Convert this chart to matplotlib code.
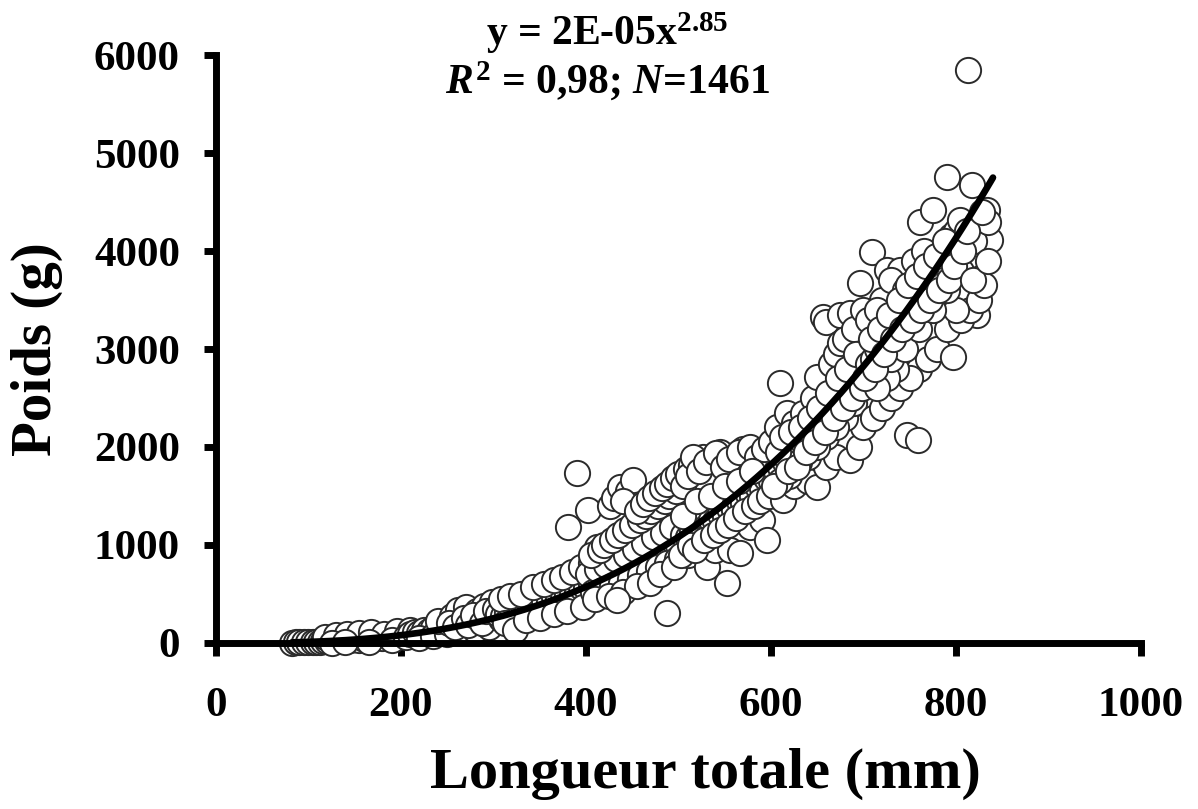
import matplotlib
matplotlib.use("Agg")
import matplotlib.pyplot as plt
import numpy as np

plt.rcParams['font.family'] = 'Liberation Serif'
plt.rcParams['font.weight'] = 'bold'
plt.rcParams['mathtext.fontset'] = 'custom'
plt.rcParams['mathtext.rm'] = 'Liberation Serif:bold'
plt.rcParams['mathtext.it'] = 'Liberation Serif:italic:bold'
plt.rcParams['mathtext.bf'] = 'Liberation Serif:bold'

# Longueur totale (mm) et poids (g)
longueur = np.array([
    82, 86, 90, 95, 100, 105, 108, 112, 116, 120, 124, 128, 132, 136, 140, 145, 150, 155, 160, 165,
    170, 175, 180, 185, 190, 195, 200, 205, 118, 130, 142, 155, 168, 182, 196, 210, 125, 140, 165, 190,
    205, 210, 215, 220, 225, 230, 235, 240, 245, 250, 255, 260, 265, 270, 275, 280, 285, 290, 295, 300,
    220, 235, 250, 265, 280, 295, 240, 255, 262, 270, 282, 290, 298,
    252, 258, 268, 272, 278, 288, 292, 302, 308, 318, 322, 328, 338, 342, 348, 352, 358, 362, 368, 372,
    378, 382, 388, 392, 398,
    305, 310, 315, 320, 325, 330, 335, 340, 345, 350, 355, 360, 365, 370, 375, 380, 385, 390, 395, 400,
    308, 318, 330, 343, 355, 365, 374, 385, 395, 405, 312, 323, 335, 350, 365, 380, 397,
    381, 390, 402, 412,
    405, 410, 415, 420, 425, 430, 435, 440, 445, 450, 455, 460, 465, 470, 475, 480, 485, 490, 495, 500,
    402, 408, 412, 418, 422, 428, 432, 438, 443, 448, 453, 458, 463, 468, 473, 478, 483, 488, 493, 498,
    405, 415, 420, 428, 435, 442, 450, 458, 465, 470, 478, 485, 490, 497,
    426, 430, 437, 445, 451, 440, 410, 425, 440, 455, 469, 480, 488, 495, 433,
    455, 462, 468, 475, 482, 488, 494, 500, 508, 513, 527, 535, 545, 560, 570,
    505, 510, 515, 520, 525, 530, 535, 540, 545, 550, 555, 560, 565, 570, 575, 580, 585, 590, 595, 600,
    505, 510, 516, 522, 530, 541, 548, 555, 565, 577, 585, 592, 600,
    505, 520, 535, 550, 565, 580, 510, 523, 531, 540, 552, 556, 566, 577, 590, 596,
    503, 512, 518, 528, 537, 545, 553, 562, 572, 582, 588, 598,
    605, 610, 615, 620, 625, 630, 635, 640, 645, 650, 655, 660, 665, 670, 675, 680, 685, 690, 695, 700,
    606, 610, 617, 625, 635, 645, 650, 656, 660, 665, 670, 675, 675, 680, 685, 690, 696, 700,
    613, 625, 640, 650, 660, 670, 685, 695, 700,
    620, 640, 660, 680, 700, 690, 670, 650, 630, 610,
    603, 608, 612, 618, 622, 628, 632, 638, 642, 648, 652, 658, 662, 668, 672, 678, 682, 688, 692, 698,
    705, 710, 715, 720, 725, 730, 735, 740, 745, 750, 755, 760, 765, 770, 775, 780, 785, 790, 795, 800,
    709, 725, 739, 761, 775, 786, 790, 797, 804, 812, 815, 817, 833, 837, 823, 813, 720, 730, 745, 755,
    765, 705, 715,
    710, 720, 730, 740, 747, 759, 760, 770, 780, 797, 790, 805, 815, 825, 830, 800, 750, 735, 725,
    715, 730, 745, 760, 775, 790, 805, 820, 835,
    702, 708, 712, 718, 722, 728, 732, 738, 742, 748, 752, 758, 762, 768, 772, 778, 782, 788, 792, 798,
    808, 812, 818, 828, 835,
])

poids = np.array([
    5, 8, 6, 10, 12, 9, 15, 14, 20, 18, 25, 20, 28, 30, 26, 35, 40, 30, 45, 50,
    42, 60, 55, 70, 65, 80, 75, 95, 60, 80, 90, 100, 110, 95, 120, 130, 0, 10, 15, 30,
    60, 90, 110, 100, 130, 120, 150, 140, 170, 150, 190, 180, 220, 200, 240, 230, 270, 250, 290, 270,
    50, 70, 90, 110, 130, 160, 220, 280, 340, 370, 330, 380, 420,
    200, 160, 260, 180, 290, 200, 330, 350, 240, 380, 260, 420, 300, 460, 330, 500, 360, 540, 400, 580,
    430, 620, 460, 660, 480,
    300, 280, 320, 300, 350, 330, 370, 360, 400, 390, 430, 420, 470, 450, 500, 490, 530, 520, 570, 560,
    450, 480, 500, 571, 600, 640, 673, 720, 780, 820, 200, 133, 230, 260, 300, 330, 367,
    1184, 1735, 1357, 980,
    600, 580, 640, 620, 680, 660, 720, 700, 770, 750, 820, 800, 870, 850, 920, 900, 970, 950, 1030, 1000,
    700, 520, 760, 540, 800, 580, 860, 610, 900, 650, 960, 690, 1020, 730, 1080, 780, 1120, 820, 1180, 860,
    900, 950, 1000, 1050, 1100, 1150, 1200, 1250, 1300, 1350, 1400, 1450, 1500, 1550,
    1400, 1480, 1592, 1550, 1663, 1450, 450, 480, 520, 580, 612, 700, 306, 780, 439,
    1350, 1420, 1480, 1530, 1580, 1620, 1680, 1720, 1780, 1820, 1900, 1880, 1950, 1900, 1980,
    1100, 1080, 1150, 1130, 1200, 1180, 1260, 1240, 1320, 1300, 1380, 1360, 1450, 1430, 1520, 1500, 1600, 1580, 1680, 1650,
    1600, 1700, 1898, 1750, 1850, 1939, 1800, 1880, 1950, 2000, 1900, 1980, 2050,
    1300, 1450, 1500, 1600, 1650, 1750, 900, 1051, 776, 950, 612, 949, 918, 1184, 1250, 1051,
    900, 1000, 950, 1050, 1100, 1150, 1200, 1280, 1350, 1400, 1450, 1500,
    1750, 1800, 1850, 1900, 1950, 2000, 2050, 2100, 2200, 2250, 2300, 2350, 2400, 2450, 2500, 2600, 2650, 2700, 2750, 2800,
    2204, 2653, 2347, 2250, 2350, 2500, 2714, 3327, 3276, 2850, 2950, 3347, 3061, 3100, 3367, 3200, 3673, 3400,
    1459, 1600, 1650, 1592, 1800, 1900, 1867, 2000, 2200,
    1700, 1900, 2100, 2300, 2500, 2450, 2200, 2000, 1850, 1650,
    1600, 1950, 2100, 1750, 2150, 1800, 2200, 1950, 2300, 2050, 2400, 2150, 2550, 2300, 2700, 2400, 2800, 2500, 2950, 2600,
    2850, 2900, 3000, 3050, 3150, 3200, 3300, 3350, 3450, 3500, 3550, 3650, 3700, 3750, 3850, 3900, 4000, 4050, 4150, 4200,
    3990, 3806, 3806, 4296, 4418, 3959, 4755, 3602, 4316, 3602, 3959, 4673, 4418, 4112, 3347, 5850, 3500, 3700, 3600, 3900,
    4000, 3300, 3400,
    2300, 2400, 2500, 2600, 2122, 2071, 2800, 2900, 3000, 2918, 3200, 3300, 3400, 3500, 3650, 3400, 2700, 2800, 2700,
    2600, 2900, 3000, 3200, 3400, 3600, 3800, 4100, 4300,
    2700, 3100, 2800, 3200, 2950, 3350, 3100, 3500, 3200, 3650, 3300, 3750, 3400, 3850, 3500, 3950, 3600, 4100, 3700, 3850,
    4000, 4200, 3700, 4400, 3900,
])

# Ajustement puissance
coef_a = 2.2e-5
coef_b = 2.85
x_fit = np.linspace(82, 840, 300)
y_fit = coef_a * x_fit ** coef_b

fig = plt.figure(figsize=(11.98, 8.09), dpi=100)
ax = fig.add_axes([0.1803, 0.2052, 0.7721, 0.7268])

ax.scatter(longueur, poids, s=330, facecolor='white', edgecolor='#2b2b2b',
           linewidths=1.4, zorder=2, clip_on=False)
ax.plot(x_fit, y_fit, color='black', lw=4.8, zorder=3, solid_capstyle='round')

ax.set_xlim(0, 1000)
ax.set_ylim(0, 6000)
ax.set_xticks(np.arange(0, 1001, 200))
ax.set_yticks(np.arange(0, 6001, 1000))

for side in ['top', 'right']:
    ax.spines[side].set_visible(False)
for side in ['left', 'bottom']:
    ax.spines[side].set_linewidth(5)
    ax.spines[side].set_zorder(4)

ax.tick_params(axis='both', direction='out', length=9, width=5, labelsize=31)
ax.tick_params(axis='y', pad=17)
ax.tick_params(axis='x', pad=23)

ax.set_xlabel("Longueur totale (mm)", fontsize=42, fontweight='bold')
ax.xaxis.set_label_coords(0.529, -0.178)
ax.set_ylabel("Poids (g)", fontsize=41, fontweight='bold', labelpad=22)

fig.text(0.507, 1 - 33 / 809, r"y = 2E-05x$^{\mathrm{2.85}}$", ha='center', va='center',
         fontsize=30, fontweight='bold')
fig.text(0.507, 1 - 81 / 809, r"$R^{\mathrm{2}}$ = 0,98; $N$=1461", ha='center', va='center',
         fontsize=30, fontweight='bold')

plt.savefig("out.png", dpi=100)
